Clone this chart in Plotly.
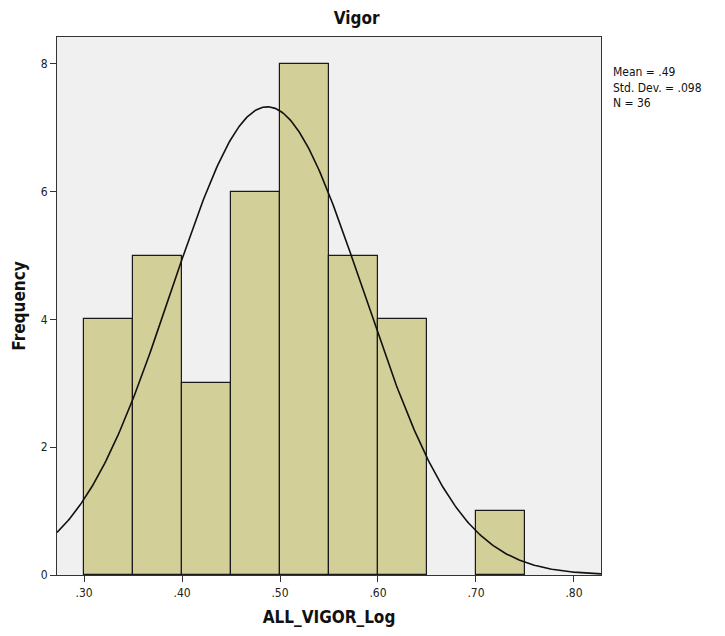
import numpy as np
import plotly.graph_objects as go

bin_starts = [0.30, 0.35, 0.40, 0.45, 0.50, 0.55, 0.60, 0.65, 0.70]
counts = [4, 5, 3, 6, 8, 5, 4, 0, 1]
bin_width = 0.05
mean_val = 0.487
sd_val = 0.098
n_val = 36
x_tick_vals = [0.30, 0.40, 0.50, 0.60, 0.70, 0.80]
x_tick_text = [".30", ".40", ".50", ".60", ".70", ".80"]
y_tick_vals = [0, 2, 4, 6, 8]

FONT = "DejaVu Sans Condensed, Liberation Sans Narrow, Arial Narrow, sans-serif"

x_range = [0.2724, 0.8276]
y_range = [0, 8.42]

fig = go.Figure()
bx = [s + bin_width / 2 for s, c in zip(bin_starts, counts) if c > 0]
by = [c for c in counts if c > 0]
fig.add_trace(go.Bar(
    x=bx, y=by, width=bin_width,
    marker=dict(color="#D3CF98", line=dict(color="#1a1a1a", width=1.2)),
    hoverinfo="skip", showlegend=False,
))

xs = np.linspace(x_range[0], x_range[1], 400)
ys = n_val * bin_width / (sd_val * np.sqrt(2 * np.pi)) * np.exp(-0.5 * ((xs - mean_val) / sd_val) ** 2)
fig.add_trace(go.Scatter(x=xs, y=ys, mode="lines",
                         line=dict(color="#111111", width=1.6),
                         hoverinfo="skip", showlegend=False))

fig.update_layout(
    width=725, height=636,
    margin=dict(l=49, r=132, t=29, b=69),
    paper_bgcolor="white", plot_bgcolor="#F0F0F0",
    bargap=0,
    font=dict(family=FONT, size=12, color="#111111"),
    title=dict(text="<b>Vigor</b>", x=0.481, xanchor="center", y=0.984, yanchor="middle",
               font=dict(family=FONT, size=17, color="#111111")),
    xaxis=dict(range=x_range, tickvals=x_tick_vals, ticktext=x_tick_text,
               showgrid=False, zeroline=False, showline=True, linecolor="#333333", linewidth=1.2,
               mirror=True, ticks="outside", ticklen=6, tickcolor="#333333",
               tickfont=dict(family=FONT, size=12, color="#222222"),
               title=dict(text="<b>ALL_VIGOR_Log</b>", font=dict(family=FONT, size=17, color="#111111"),
                          standoff=12)),
    yaxis=dict(range=y_range, tickvals=y_tick_vals,
               showgrid=False, zeroline=False, showline=True, linecolor="#333333", linewidth=1.2,
               mirror=True, ticks="outside", ticklen=6, tickcolor="#333333",
               tickfont=dict(family=FONT, size=12, color="#222222"),
               title=dict(text="<b>Frequency</b>", font=dict(family=FONT, size=17, color="#111111"),
                          standoff=10)),
    annotations=[dict(
        text="Mean = .49<br>Std. Dev. = .098<br>N = 36",
        xref="paper", yref="paper", x=1.018, y=0.952, xanchor="left", yanchor="top",
        align="left", showarrow=False,
        font=dict(family=FONT, size=12, color="#111111"),
    )],
)

fig.write_html("out.html")
